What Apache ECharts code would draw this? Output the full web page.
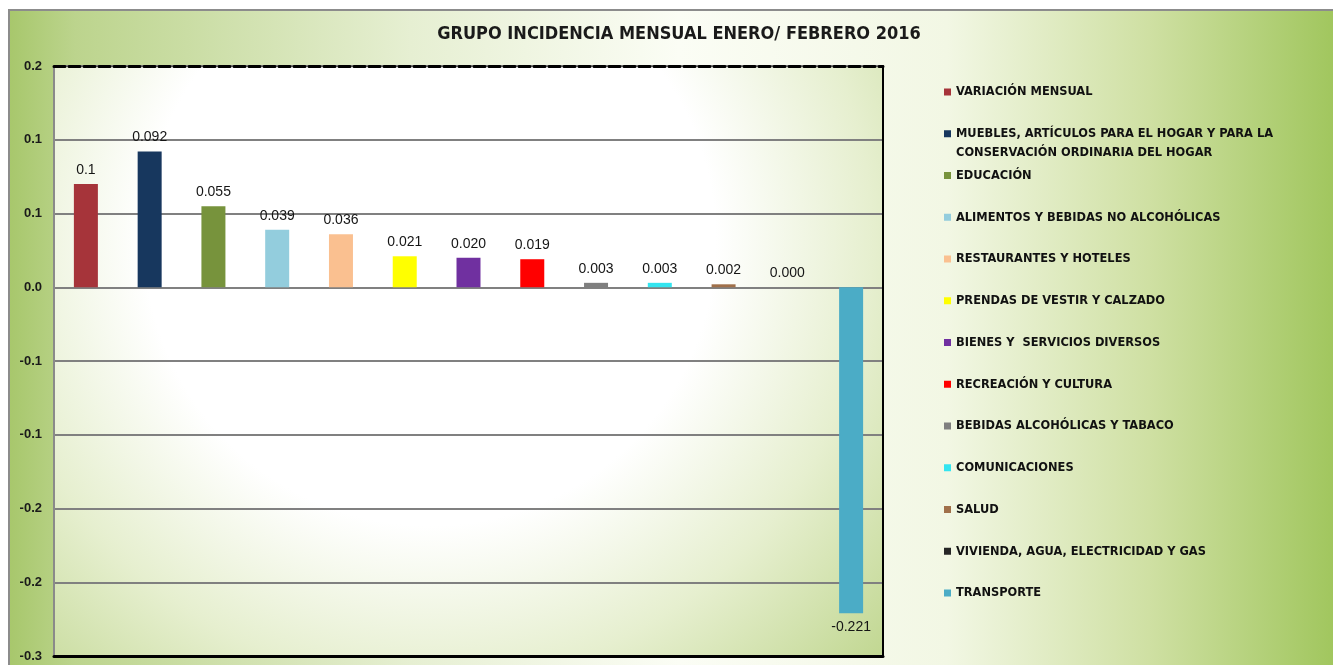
<!DOCTYPE html>
<html><head><meta charset="utf-8">
<script src="https://cdn.jsdelivr.net/npm/echarts@6/dist/echarts.min.js"></script>
<style>html,body{margin:0;padding:0;background:#fff}#c{width:1333px;height:665px}</style>
</head><body><div id="c"></div>
<script>
const categories = [
  'VARIACIÓN MENSUAL',
  'MUEBLES, ARTÍCULOS PARA EL HOGAR Y PARA LA CONSERVACIÓN ORDINARIA DEL HOGAR',
  'EDUCACIÓN',
  'ALIMENTOS Y BEBIDAS NO ALCOHÓLICAS',
  'RESTAURANTES Y HOTELES',
  'PRENDAS DE VESTIR Y CALZADO',
  'BIENES Y  SERVICIOS DIVERSOS',
  'RECREACIÓN Y CULTURA',
  'BEBIDAS ALCOHÓLICAS Y TABACO',
  'COMUNICACIONES',
  'SALUD',
  'VIVIENDA, AGUA, ELECTRICIDAD Y GAS',
  'TRANSPORTE'
];
const values = [0.070, 0.092, 0.055, 0.039, 0.036, 0.021, 0.020, 0.019, 0.003, 0.003, 0.002, 0.000, -0.221];
const labelDecimals = [1, 3, 3, 3, 3, 3, 3, 3, 3, 3, 3, 3, 3];
const colors = ['#a6343a', '#17375e', '#77933c', '#93cddd', '#fac090', '#ffff00', '#7030a0', '#ff0000', '#7f7f7f', '#33e5f0', '#a0704a', '#262626', '#4bacc6'];
const yMin = -0.25, yMax = 0.15, yStep = 0.05;
const titleText = 'GRUPO INCIDENCIA MENSUAL ENERO/ FEBRERO 2016';

const narrow = "'Liberation Sans Narrow', 'DejaVu Sans Condensed', sans-serif";
const arial = "'Liberation Sans', Arial, sans-serif";

function fmtAxis(v) {
  const r = Math.round(Math.abs(v) * 10 + 1e-6) / 10;
  return (v < -1e-9 ? '-' : '') + r.toFixed(1);
}

const legendLH = 19;
const legendFont = { fontFamily: narrow, fontSize: 12.7, fontWeight: 'bold', color: '#111' };
function legendName(n) {
  if (n === categories[1]) {
    return '{p|MUEBLES, ARTÍCULOS PARA EL HOGAR Y PARA LA}\n{n|CONSERVACIÓN ORDINARIA DEL HOGAR}';
  }
  return n;
}

const legends = categories.map((name, i) => {
  const center = 92 + 41.75 * i;
  const multi = i === 1;
  return {
    data: [name],
    orient: 'vertical',
    left: 944,
    top: multi ? center - legendLH * 1.5 : center - legendLH / 2,
    padding: 0,
    itemWidth: 7,
    itemHeight: 7,
    icon: 'rect',
    formatter: legendName,
    textStyle: Object.assign({}, legendFont, {
      lineHeight: legendLH,
      rich: {
        p: Object.assign({}, legendFont, { lineHeight: legendLH * 2, padding: [legendLH, 0, 0, 0] }),
        n: Object.assign({}, legendFont, { lineHeight: legendLH })
      }
    })
  };
});

const series = categories.map((name, i) => ({
  name: name,
  type: 'bar',
  barWidth: 24,
  barGap: '-100%',
  xAxisIndex: 0,
  yAxisIndex: 0,
  data: values.map((v, j) => (j === i ? v : '-')),
  itemStyle: { color: colors[i] },
  label: {
    show: true,
    position: values[i] < 0 ? 'bottom' : 'top',
    distance: 7,
    fontFamily: arial, fontSize: 14, color: '#151515',
    formatter: p => Number(p.value).toFixed(labelDecimals[i])
  }
}));

const chart = echarts.init(document.getElementById('c'), null, { renderer: 'canvas' });
chart.setOption({
  backgroundColor: '#ffffff',
  animation: false,
  graphic: [{
    type: 'rect', z: -100, silent: true,
    shape: { x: 9, y: 10, width: 1340, height: 670 },
    style: {
      stroke: '#8c8c8c', lineWidth: 2,
      fill: {
        type: 'linear', x: 0, y: 0, x2: 1, y2: 0,
        colorStops: [
          { offset: 0, color: '#a7c76b' },
          { offset: 0.05, color: '#bcd48d' },
          { offset: 0.3, color: '#e6efd2' },
          { offset: 0.5, color: '#fbfdf5' },
          { offset: 0.7, color: '#f2f7e4' },
          { offset: 0.85, color: '#cfe0a3' },
          { offset: 1, color: '#9dc458' }
        ]
      }
    }
  }],
  title: {
    text: titleText,
    left: 674, top: 20, textAlign: 'center',
    textStyle: { fontFamily: narrow, fontSize: 18, fontWeight: 'bold', color: '#1a1a1a' }
  },
  legend: legends,
  grid: {
    left: 54, top: 66, right: 450, bottom: 9,
    show: true, borderWidth: 0,
    backgroundColor: {
      type: 'radial', x: 430, y: 240, r: 680, global: true,
      colorStops: [
        { offset: 0, color: '#ffffff' },
        { offset: 0.42, color: '#ffffff' },
        { offset: 0.65, color: '#e6efcf' },
        { offset: 1, color: '#b3ce7a' }
      ]
    }
  },
  xAxis: [{
    type: 'category', data: categories, position: 'bottom',
    axisLine: { onZero: false, lineStyle: { color: '#000', width: 3 } },
    axisTick: { show: false }, axisLabel: { show: false }, splitLine: { show: false }
  }, {
    type: 'category', data: categories, position: 'top',
    axisLine: { onZero: false, lineStyle: { color: '#000', width: 3, type: [11, 4] } },
    axisTick: { show: false }, axisLabel: { show: false }, splitLine: { show: false }
  }],
  yAxis: [{
    type: 'value', min: yMin, max: yMax, interval: yStep, position: 'left',
    axisLine: { show: true, onZero: false, lineStyle: { color: '#8a8a8a', width: 2 } },
    axisTick: { show: false },
    splitLine: { lineStyle: { color: '#808080', width: 2 } },
    axisLabel: { formatter: fmtAxis, margin: 12, fontFamily: arial, fontSize: 13, fontWeight: 'bold', color: '#1a1a1a' }
  }, {
    type: 'value', min: yMin, max: yMax, interval: yStep, position: 'right',
    axisLine: { show: true, onZero: false, lineStyle: { color: '#000', width: 2 } },
    axisTick: { show: false }, axisLabel: { show: false }, splitLine: { show: false }
  }],
  series: series
});
</script>
</body></html>
